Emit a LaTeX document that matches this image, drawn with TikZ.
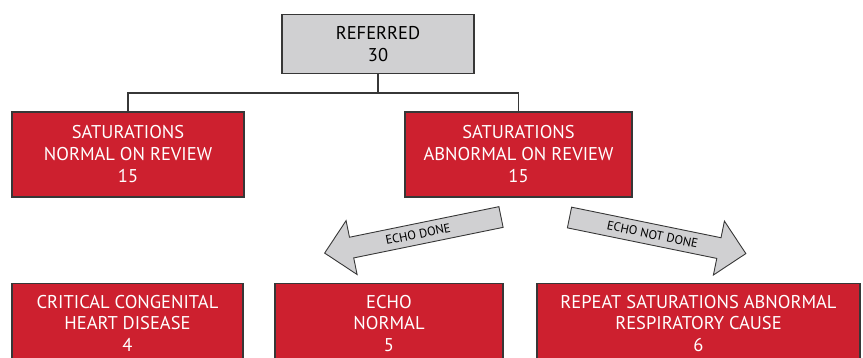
\documentclass[tikz,border=0pt]{standalone}
\usepackage{fontspec}
\setmainfont{PT Sans}
\usetikzlibrary{shapes.arrows}
\definecolor{boxred}{RGB}{205,32,47}
\definecolor{boxgray}{RGB}{208,208,210}
\definecolor{edgec}{RGB}{55,55,55}
\tikzset{
  box/.style={draw=edgec, line width=1.2pt, align=center, inner sep=0pt,
    font=\fontsize{18.5}{22}\selectfont},
  topbox/.style={box, fill=boxgray, text=black, minimum width=192pt, minimum height=59pt},
  redbox/.style={box, fill=boxred, text=white, minimum height=85pt},
  endbox/.style={redbox, anchor=north, minimum height=79pt,
    font=\fontsize{18.5}{21.5}\selectfont},
  fatarrow/.style={single arrow, draw=edgec, fill=boxgray, line width=0.9pt,
    font=\fontsize{12.5}{13}\selectfont, minimum height=180pt, minimum width=55pt,
    single arrow head extend=16pt, inner xsep=2pt, inner ysep=5pt},
  link/.style={draw=edgec, line width=1.2pt},
}

\begin{document}
\begin{tikzpicture}[x=1pt, y=1pt]
\useasboundingbox (0,0) rectangle (863,358);

% ------------------------------------------------- top
\node[topbox] (referred) at (378,314) {REFERRED\\30};

% ------------------------------------------------- review
\node[redbox, minimum width=232pt] (normal) at (128,203.5)
  {SATURATIONS\\NORMAL ON REVIEW\\15};
\node[redbox, minimum width=227pt] (abnormal) at (518.5,203.5)
  {SATURATIONS\\ABNORMAL ON REVIEW\\15};

\coordinate (split) at (378,265);
\draw[link] (referred) -- (split);
\draw[link] (split) -| (normal);
\draw[link] (split) -| (abnormal);

% ------------------------------------------------- echo arrows
\node[fatarrow, rotate=11.56, shape border rotate=180] (done) at (418,124) {ECHO DONE};
\node[fatarrow, rotate=-11.56] (notdone) at (652.5,123.5) {ECHO NOT DONE};

% ------------------------------------------------- outcomes (run off the lower edge)
\node[endbox, minimum width=231pt] (cchd) at (127.5,75)
  {CRITICAL CONGENITAL\\HEART DISEASE\\4};
\node[endbox, minimum width=228pt] (echonormal) at (389,75)
  {ECHO\\NORMAL\\5};
\node[endbox, minimum width=323pt] (resp) at (698.5,75)
  {REPEAT SATURATIONS ABNORMAL\\RESPIRATORY CAUSE\\6};

\end{tikzpicture}
\end{document}
